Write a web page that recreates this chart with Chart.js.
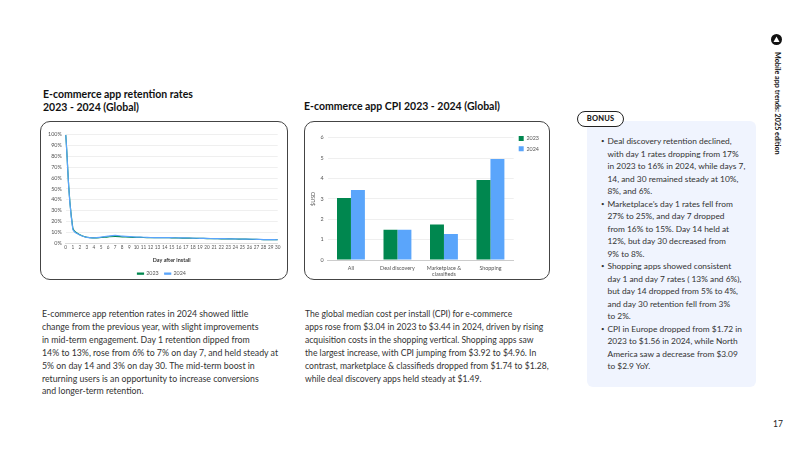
<!DOCTYPE html>
<html><head><meta charset="utf-8">
<script src="https://cdn.jsdelivr.net/npm/chart.js@4/dist/chart.umd.min.js"></script>
<style>
html,body{margin:0;padding:0;background:#fff;width:800px;height:450px;overflow:hidden;font-family:Lato,sans-serif;color:#222}
.t{position:absolute;white-space:nowrap}
.h{font-size:10.5px;font-weight:700;line-height:12.5px;color:#111}
.b{font-size:8.75px;line-height:12.9px;color:#333}
.card{position:absolute;border:1.3px solid #444;border-radius:10px;box-sizing:border-box;background:#fff;top:121px;height:159px}
canvas{position:absolute;left:0;top:0}
#bonus{position:absolute;left:587px;top:121px;width:169px;height:266px;background:#f0f4fe;border-radius:6px}
#pill{position:absolute;left:577px;top:111px;width:47px;height:16px;border:1.2px solid #222;border-radius:9px;background:#fff;box-sizing:border-box;text-align:center;font-size:7.5px;font-weight:900;line-height:14px;letter-spacing:.2px}
.li{position:absolute;left:607.5px;font-size:8.35px;line-height:12.5px;color:#333;white-space:nowrap}
.dot{position:absolute;left:601px;font-size:6px;line-height:12.5px;color:#333}
</style></head><body>
<div class="t h" style="left:43px;top:88px">E-commerce app retention rates<br>2023 - 2024 (Global)</div>
<div class="t h" style="left:304px;top:100px">E-commerce app CPI 2023 - 2024 (Global)</div>
<div class="card" style="left:40px;width:248px"><canvas id="c1" width="246" height="157"></canvas></div>
<div class="card" style="left:304px;width:246px"><canvas id="c2" width="244" height="157"></canvas></div>
<div class="t b" style="left:42px;top:308px">E-commerce app retention rates in 2024 showed little<br>change from the previous year, with slight improvements<br>in mid-term engagement. Day 1 retention dipped from<br>14% to 13%, rose from 6% to 7% on day 7, and held steady at<br>5% on day 14 and 3% on day 30. The mid-term boost in<br>returning users is an opportunity to increase conversions<br>and longer-term retention.</div>
<div class="t b" style="left:305px;top:308px;font-size:8.6px">The global median cost per install (CPI) for e-commerce<br>apps rose from $3.04 in 2023 to $3.44 in 2024, driven by rising<br>acquisition costs in the shopping vertical. Shopping apps saw<br>the largest increase, with CPI jumping from $3.92 to $4.96. In<br>contrast, marketplace &amp; classifieds dropped from $1.74 to $1.28,<br>while deal discovery apps held steady at $1.49.</div>
<div id="bonus"></div><div id="pill">BONUS</div>
<div class="dot" style="top:135px">•</div>
<div class="li" style="top:135px">Deal discovery retention declined,<br>with day 1 rates dropping from 17%<br>in 2023 to 16% in 2024, while days 7,<br>14, and 30 remained steady at 10%,<br>8%, and 6%.</div>
<div class="dot" style="top:197.5px">•</div>
<div class="li" style="top:197.5px">Marketplace’s day 1 rates fell from<br>27% to 25%, and day 7 dropped<br>from 16% to 15%. Day 14 held at<br>12%, but day 30 decreased from<br>9% to 8%.</div>
<div class="dot" style="top:260px">•</div>
<div class="li" style="top:260px">Shopping apps showed consistent<br>day 1 and day 7 rates ( 13% and 6%),<br>but day 14 dropped from 5% to 4%,<br>and day 30 retention fell from 3%<br>to 2%.</div>
<div class="dot" style="top:322.5px">•</div>
<div class="li" style="top:322.5px">CPI in Europe dropped from $1.72 in<br>2023 to $1.56 in 2024, while North<br>America saw a decrease from $3.09<br>to $2.9 YoY.</div>
<svg style="position:absolute;left:770px;top:33px" width="13" height="13" viewBox="0 0 13 13"><circle cx="6.5" cy="6.5" r="5.5" fill="#111"/><path d="M3.5 9 L6.5 3.5 L9.5 9 Z" fill="#fff"/></svg>
<div class="t" style="left:772.5px;top:52px;writing-mode:vertical-rl;font-size:7.2px;font-weight:700;color:#111">Mobile app trends: 2025 edition</div>
<div class="t" style="left:773px;top:419px;font-size:8.5px;color:#222">17</div>
<script>
const days=Array.from({length:31},(_, i)=>String(i));
const retention2023=[100,14,7.6,5.3,4.8,5.1,5.7,6,5.7,5.4,5.2,5.1,5,5,5,4.8,4.6,4.5,4.4,4.3,4.1,4,3.9,3.8,3.7,3.6,3.4,3.3,3.2,3.1,3];
const retention2024=[100,13,7.4,5.2,4.8,5.4,6.4,7,6.4,5.9,5.5,5.3,5.1,5,5,4.9,4.8,4.7,4.5,4.3,4.2,4.1,4,3.9,3.8,3.6,3.5,3.4,3.2,3.1,3];
const yTicks1=[0,10,20,30,40,50,60,70,80,90,100];
const cpiCats=['All','Deal discovery',['Marketplace &','classifieds'],'Shopping'];
const cpi2023=[3.04,1.49,1.74,3.92];
const cpi2024=[3.44,1.49,1.28,4.96];
const green='#00874f',blue='#5aa5fb';
const tick={color:'#555',font:{family:'Lato',size:5.4}};
function legendSize(w,h,shift){return {id:'legendSize',
  beforeLayout(c){const l=c.legend;if(l._sized)return;l._sized=true;const f=l.fit;l.fit=function(){f.call(this);if(w)this.width=w;if(h)this.height=h;};},
  afterLayout(c){if(shift)c.legend.top-=shift;}};}
new Chart(document.getElementById('c1'),{type:'line',
 data:{labels:days,datasets:[
  {label:'2023',data:retention2023,borderColor:green,backgroundColor:green,borderWidth:1.2,pointRadius:0,tension:.4,order:2},
  {label:'2024',data:retention2024,borderColor:blue,backgroundColor:blue,borderWidth:1.2,pointRadius:0,tension:.4,order:1}]},
 plugins:[legendSize(0,14,0)],
 options:{responsive:false,animation:false,
  layout:{padding:{left:4.7,right:9.3,top:12.7,bottom:0}},
  plugins:{tooltip:{enabled:false},legend:{position:'bottom',labels:{boxWidth:6,boxHeight:1,padding:6,color:'#555',font:{family:'Lato',size:5.4},sort:(a,b)=>a.datasetIndex-b.datasetIndex}}},
  scales:{
   x:{offset:false,afterFit(s){s.height=22},grid:{display:false,drawTicks:false},border:{color:'#ddd'},ticks:{color:'#555',font:{family:'Lato',size:4.7},autoSkip:false,maxRotation:0,padding:2},title:{display:true,text:'Day after install',color:'#333',font:{family:'Lato',size:5.4,weight:'bold'},padding:{top:0,bottom:1}}},
   y:{min:0,max:100,afterFit(s){s.width=20},afterBuildTicks:a=>{a.ticks=yTicks1.map(v=>({value:v}))},grid:{color:'#efefef',drawTicks:false},border:{display:false},ticks:{...tick,autoSkip:false,padding:4,callback:v=>v+'%'}}
  }}});
new Chart(document.getElementById('c2'),{type:'bar',
 data:{labels:cpiCats,datasets:[
  {label:'2023',data:cpi2023,backgroundColor:green,categoryPercentage:.6,barPercentage:1},
  {label:'2024',data:cpi2024,backgroundColor:blue,categoryPercentage:.6,barPercentage:1}]},
 plugins:[legendSize(35.3,0,7)],
 options:{responsive:false,animation:false,
  layout:{padding:{left:4,right:0,top:15.7,bottom:0}},
  plugins:{tooltip:{enabled:false},legend:{position:'right',align:'start',labels:{boxWidth:5,boxHeight:5,padding:5,color:'#555',font:{family:'Lato',size:5.4}}}},
  scales:{
   x:{afterFit(s){s.height=19},grid:{display:false,drawTicks:false},border:{color:'#ccc'},ticks:{...tick,autoSkip:false,maxRotation:0,padding:5}},
   y:{min:0,max:6,afterFit(s){s.width=18.7},grid:{color:'#efefef',drawTicks:false},border:{display:false},ticks:{...tick,stepSize:1,padding:4},title:{display:true,text:'$USD',color:'#555',font:{family:'Lato',size:5.4},padding:1}}
  }}});
</script>
</body></html>
